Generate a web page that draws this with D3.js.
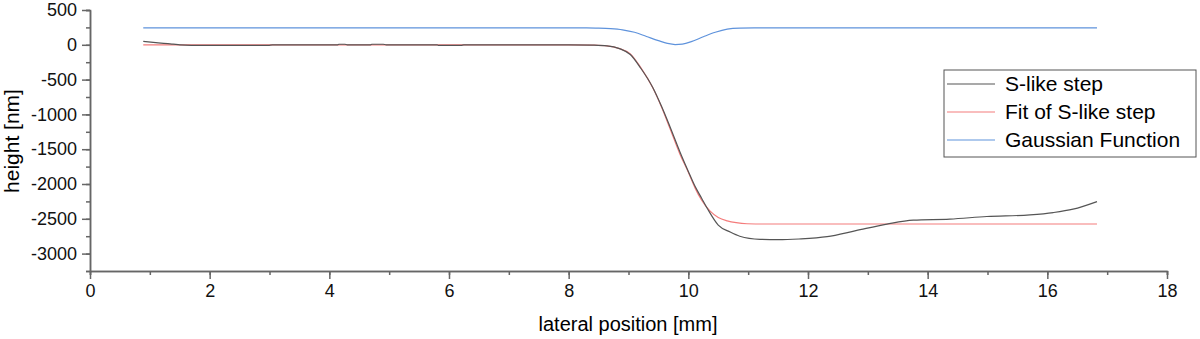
<!DOCTYPE html>
<html>
<head>
<meta charset="utf-8">
<script src="https://cdn.jsdelivr.net/npm/d3@7"></script>
<style>
  body { margin: 0; background: #fff; }
  text { font-family: "Liberation Sans", Arial, sans-serif; }
</style>
</head>
<body>
<svg id="chart" width="1200" height="339"></svg>
<script>
// measured step profile [mm, nm]
var stepData = [[0.89,50],[1.1,32],[1.3,16],[1.39,10],[1.5,0],[1.89,-8],[2.98,-8],[3.05,0],[4.14,0],[4.16,8],
  [4.26,8],[4.3,0],[4.69,0],[4.71,8],[4.9,8],[4.95,0],[5.8,0],[5.82,-8],[6.2,-8],[6.25,0],[8.0,0],[8.4,-5],
  [8.64,-15],[8.85,-55],[9.03,-140],[9.2,-330],[9.41,-620],[9.55,-880],[9.69,-1170],[9.86,-1540],[10.0,-1820],
  [10.11,-2030],[10.22,-2200],[10.33,-2370],[10.5,-2590],[10.7,-2690],[10.86,-2750],[11.2,-2795],[11.5,-2800],
  [11.85,-2790],[12.32,-2757],[12.8,-2670],[13.32,-2576],[13.76,-2519],[14.37,-2504],[14.99,-2467],[15.71,-2443],
  [16.1,-2410],[16.43,-2362],[16.83,-2253]];
// fitted S-curve
var fitData = [[0.89,0],[8.0,0],[8.4,-5],[8.64,-15],[8.85,-55],[9.03,-130],[9.2,-320],[9.41,-624],[9.55,-890],
  [9.69,-1195],[9.86,-1571],[10.0,-1830],[10.11,-2052],[10.22,-2230],[10.36,-2386],[10.5,-2480],[10.65,-2529],
  [10.8,-2556],[10.98,-2571],[11.3,-2575],[16.83,-2575]];
// gaussian dip
var gaussData = [[0.89,243],[8.3,243],[8.47,240],[8.7,232],[8.9,215],[9.1,180],[9.3,120],[9.5,60],[9.65,20],
  [9.78,3],[9.9,10],[10.05,45],[10.25,115],[10.45,180],[10.65,225],[10.86,240],[11.1,243],[16.83,243]];

var seriesNames = ["S-like step", "Fit of S-like step", "Gaussian Function"];
var seriesColors = ["#555555", "#f47c7c", "#5f93dc"];
var xTicks = [0, 2, 4, 6, 8, 10, 12, 14, 16, 18];
var yTicks = [500, 0, -500, -1000, -1500, -2000, -2500, -3000];

var svg = d3.select("#chart");
var x = d3.scaleLinear().domain([0, 18]).range([90, 1167]);
var y = d3.scaleLinear().domain([-3250, 500]).range([271, 10]);

var axisColor = "#666";
var plain = function(d) { return String(d); };

// minor ticks
svg.append("g").attr("transform", "translate(0,271)")
  .call(d3.axisBottom(x).tickValues(d3.range(0, 19, 1)).tickSize(4).tickFormat(""));
svg.append("g").attr("transform", "translate(0,271)")
  .call(d3.axisBottom(x).tickValues(xTicks).tickSize(8).tickSizeOuter(0).tickPadding(5).tickFormat(plain));

svg.append("g").attr("transform", "translate(90,0)")
  .call(d3.axisLeft(y).tickValues(d3.range(-3250, 501, 250)).tickSize(4).tickFormat(""));
svg.append("g").attr("transform", "translate(90,0)")
  .call(d3.axisLeft(y).tickValues(yTicks).tickSize(8).tickSizeOuter(0).tickPadding(5).tickFormat(plain));

svg.selectAll(".domain").attr("stroke", axisColor).attr("stroke-width", 1.5);
svg.selectAll(".tick line").attr("stroke", axisColor).attr("stroke-width", 1.5);
svg.selectAll(".tick text").attr("font-size", 18).attr("fill", "#111")
  .style("font-family", '"Liberation Sans", Arial, sans-serif');

svg.append("text").attr("x", 628).attr("y", 331).attr("text-anchor", "middle")
  .attr("font-size", 20).text("lateral position [mm]");
svg.append("text").attr("transform", "translate(19,141) rotate(-90)").attr("text-anchor", "middle")
  .attr("font-size", 21).text("height [nm]");

var line = d3.line().curve(d3.curveMonotoneX)
  .x(function(d) { return x(d[0]); }).y(function(d) { return y(d[1]); });

[[gaussData, 2], [fitData, 1], [stepData, 0]].forEach(function(s) {
  svg.append("path").datum(s[0]).attr("d", line).attr("fill", "none")
    .attr("stroke", seriesColors[s[1]]).attr("stroke-width", 1.2);
});

// legend
var lg = svg.append("g");
lg.append("rect").attr("x", 944).attr("y", 70).attr("width", 252).attr("height", 87)
  .attr("fill", "#fff").attr("stroke", "#555").attr("stroke-width", 1);
seriesNames.forEach(function(name, i) {
  var yy = 84 + i * 28;
  lg.append("line").attr("x1", 947).attr("x2", 995).attr("y1", yy).attr("y2", yy)
    .attr("stroke", seriesColors[i]).attr("stroke-width", 1.2);
  lg.append("text").attr("x", 1005).attr("y", yy + 7).attr("font-size", 21).text(name);
});
</script>
</body>
</html>
